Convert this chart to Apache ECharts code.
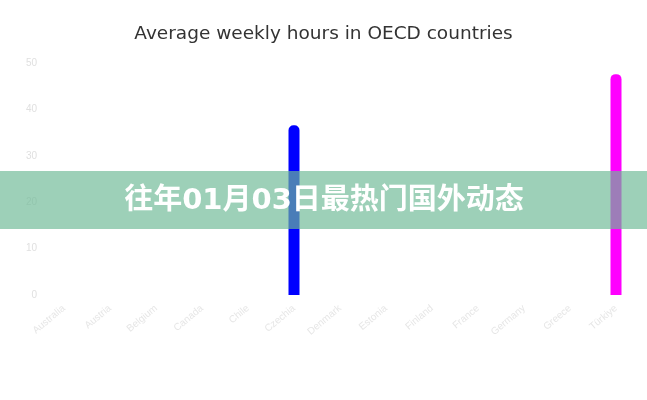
<!DOCTYPE html>
<html>
<head>
<meta charset="utf-8">
<script src="https://cdn.jsdelivr.net/npm/echarts@6/dist/echarts.min.js"></script>
<style>
  html, body { margin: 0; padding: 0; background: #fff; }
  #main { width: 647px; height: 400px; }
</style>
</head>
<body>
<div id="main"></div>
<script>
// data
var countries = ['Australia', 'Austria', 'Belgium', 'Canada', 'Chile', 'Czechia', 'Denmark',
                 'Estonia', 'Finland', 'France', 'Germany', 'Greece', 'Türkiye'];
var hours = [null, null, null, null, null, 36.6, null, null, null, null, null, null, 47.6];
var yTicks = [0, 10, 20, 30, 40, 50];
var bannerText = '往年01月03日最热门国外动态';

// one colour per bar
var barColors = ['#0000ff', '#0000ff', '#0000ff', '#0000ff', '#0000ff', '#0000ff', '#0000ff',
                 '#ff00ff', '#ff00ff', '#ff00ff', '#ff00ff', '#ff00ff', '#ff00ff'];

var myChart = echarts.init(document.getElementById('main'));

var barData = hours.map(function (v, i) {
    return { value: v, itemStyle: { color: barColors[i] } };
});

var option = {
    animation: false,
    backgroundColor: '#fff',
    title: {
        text: 'Average weekly hours in OECD countries',
        left: 'center',
        top: 20,
        textStyle: {
            fontFamily: 'DejaVu Sans',
            fontSize: 18.5,
            fontWeight: 'normal',
            color: '#333'
        }
    },
    grid: {
        left: 41,
        right: 8,
        top: 63,
        bottom: 105,
        containLabel: false
    },
    xAxis: {
        type: 'category',
        data: countries,
        axisLine: { show: false },
        axisTick: { show: false },
        axisLabel: {
            rotate: 40,
            interval: 0,
            fontSize: 10,
            margin: 12,
            color: '#e6e6e6'
        }
    },
    yAxis: {
        type: 'value',
        min: yTicks[0],
        max: yTicks[yTicks.length - 1],
        interval: 10,
        splitLine: { show: false },
        axisLine: { show: false },
        axisTick: { show: false },
        axisLabel: {
            fontSize: 10,
            color: '#e0e0e0',
            margin: 4
        }
    },
    series: [{
        type: 'bar',
        data: barData,
        barWidth: 11,
        itemStyle: { borderRadius: [5, 5, 0, 0] }
    }],
    graphic: [{
        type: 'rect',
        z: 100,
        shape: { x: 0, y: 171, width: 647, height: 58 },
        style: { fill: 'rgba(110,185,150,0.675)' }
    }, {
        type: 'text',
        z: 101,
        x: 324,
        y: 201,
        style: {
            text: bannerText,
            fill: '#fff',
            font: 'bold 29px "DejaVu Sans", "Noto Sans CJK SC"',
            textAlign: 'center',
            textVerticalAlign: 'middle'
        }
    }]
};

myChart.setOption(option);
</script>
</body>
</html>
